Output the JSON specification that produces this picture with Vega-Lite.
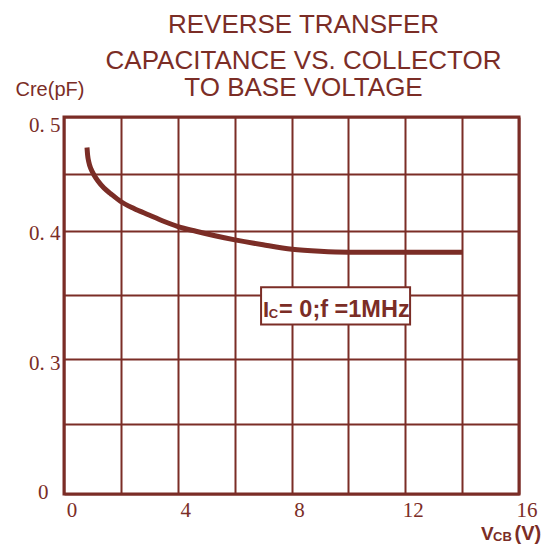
{
  "$schema": "https://vega.github.io/schema/vega-lite/v6.json",
  "width": 455,
  "height": 377,
  "autosize": {"type": "none"},
  "padding": {"left": 64, "top": 117, "right": 31, "bottom": 51},
  "background": "white",
  "config": {
    "view": {"stroke": "#7b2d26", "strokeWidth": 3},
    "axis": {"gridColor": "#7b2d26", "gridWidth": 2, "gridOpacity": 1, "domain": false, "ticks": false, "labelColor": "#7b2d26", "labelOverlap": false, "labelFlush": false, "labelBound": false}
  },
  "title": {
    "text": "REVERSE TRANSFER",
    "subtitle": ["CAPACITANCE VS. COLLECTOR", "TO BASE VOLTAGE"],
    "font": "Liberation Sans",
    "fontSize": 26,
    "fontWeight": "normal",
    "color": "#7b2d26",
    "subtitleFont": "Liberation Sans",
    "subtitleFontSize": 26,
    "subtitleFontWeight": "normal",
    "subtitleColor": "#7b2d26",
    "subtitleLineHeight": 27,
    "subtitlePadding": 10,
    "anchor": "middle",
    "frame": "group",
    "dx": 12,
    "offset": -22
  },
  "datasets": {
    "curve": [
      {"v": 0.809, "c": 0.4732},
      {"v": 0.83, "c": 0.4667},
      {"v": 0.872, "c": 0.4605},
      {"v": 0.949, "c": 0.4544},
      {"v": 1.055, "c": 0.4491},
      {"v": 1.195, "c": 0.4439},
      {"v": 1.406, "c": 0.4377},
      {"v": 1.653, "c": 0.4325},
      {"v": 1.994, "c": 0.4259},
      {"v": 2.46, "c": 0.4197},
      {"v": 2.99, "c": 0.4140},
      {"v": 3.48, "c": 0.4088},
      {"v": 4.01, "c": 0.4039},
      {"v": 4.64, "c": 0.3998},
      {"v": 5.31, "c": 0.3963},
      {"v": 6.01, "c": 0.3931},
      {"v": 7.0, "c": 0.3892},
      {"v": 8.02, "c": 0.3857},
      {"v": 9.0, "c": 0.3841},
      {"v": 9.99, "c": 0.3834},
      {"v": 14.0, "c": 0.3834}
    ],
    "note": [{"x1": 6.93, "x2": 12.17, "y1": 0.327, "y2": 0.356}],
    "anchor": [{"x": 16, "y": 0}]
  },
  "layer": [
    {
      "data": {"name": "curve"},
      "mark": {"type": "line", "color": "#7b2d26", "strokeWidth": 5, "interpolate": "monotone", "strokeCap": "butt"},
      "encoding": {
        "x": {
          "field": "v", "type": "quantitative",
          "scale": {"domain": [0, 16], "nice": false, "zero": false},
          "axis": {
            "values": [0, 2, 4, 6, 8, 10, 12, 14, 16],
            "labelExpr": "datum.value % 4 == 0 ? datum.label : ''",
            "labelFont": "Liberation Serif",
            "labelFontSize": 21,
            "labelOffset": 7.5,
            "labelPadding": 5,
            "title": null
          }
        },
        "y": {
          "field": "c", "type": "quantitative",
          "scale": {"domain": [0, 0.3, 0.4, 0.5], "range": [377, 242, 114, 0], "nice": false, "zero": false},
          "axis": {
            "values": [0, 0.155, 0.3, 0.35, 0.4, 0.45, 0.5],
            "labelExpr": "datum.value == 0.5 ? '0. 5' : datum.value == 0.4 ? '0. 4' : datum.value == 0.3 ? '0. 3' : datum.value == 0 ? '0' : ''",
            "labelFont": "Liberation Serif",
            "labelFontSize": 21,
            "labelPadding": {"condition": {"test": "datum.value == 0", "value": 16}, "value": 4},
            "labelBaseline": "middle",
            "labelOffset": {"condition": [{"test": "datum.value == 0.5", "value": 8}, {"test": "datum.value == 0", "value": -2}, {"test": "datum.value == 0.3", "value": 4}], "value": 2},
            "title": "Cre(pF)",
            "titleAngle": 0,
            "titleX": -49,
            "titleY": -22,
            "titleAlign": "left",
            "titleBaseline": "alphabetic",
            "titleFont": "Liberation Sans",
            "titleFontSize": 20,
            "titleFontWeight": "normal",
            "titleColor": "#7b2d26"
          }
        }
      }
    },
    {
      "data": {"name": "note"},
      "mark": {"type": "rect", "fill": "white", "stroke": "#7b2d26", "strokeWidth": 2},
      "encoding": {
        "x": {"field": "x1", "type": "quantitative"},
        "x2": {"field": "x2"},
        "y": {"field": "y1", "type": "quantitative"},
        "y2": {"field": "y2"}
      }
    },
    {
      "data": {"name": "note"},
      "mark": {"type": "text", "text": "I", "align": "left", "baseline": "alphabetic", "dx": 2, "dy": -7.7, "font": "Liberation Sans", "fontSize": 22, "fontWeight": "bold", "color": "#7b2d26"},
      "encoding": {"x": {"field": "x1", "type": "quantitative"}, "y": {"field": "y1", "type": "quantitative"}}
    },
    {
      "data": {"name": "note"},
      "mark": {"type": "text", "text": "C", "align": "left", "baseline": "alphabetic", "dx": 7.8, "dy": -6, "font": "Liberation Sans", "fontSize": 13, "fontWeight": "bold", "color": "#7b2d26"},
      "encoding": {"x": {"field": "x1", "type": "quantitative"}, "y": {"field": "y1", "type": "quantitative"}}
    },
    {
      "data": {"name": "note"},
      "mark": {"type": "text", "text": "= 0;f =1MHz", "align": "left", "baseline": "alphabetic", "dx": 18, "dy": -7.7, "font": "Liberation Sans", "fontSize": 23.5, "fontWeight": "bold", "color": "#7b2d26"},
      "encoding": {"x": {"field": "x1", "type": "quantitative"}, "y": {"field": "y1", "type": "quantitative"}}
    },
    {
      "data": {"name": "anchor"},
      "mark": {"type": "text", "text": "V", "align": "left", "baseline": "alphabetic", "dx": -38, "dy": 46, "font": "Liberation Sans", "fontSize": 19, "fontWeight": "bold", "color": "#7b2d26"},
      "encoding": {"x": {"field": "x", "type": "quantitative"}, "y": {"field": "y", "type": "quantitative"}}
    },
    {
      "data": {"name": "anchor"},
      "mark": {"type": "text", "text": "CB", "align": "left", "baseline": "alphabetic", "dx": -26, "dy": 47, "font": "Liberation Sans", "fontSize": 13, "fontWeight": "bold", "color": "#7b2d26"},
      "encoding": {"x": {"field": "x", "type": "quantitative"}, "y": {"field": "y", "type": "quantitative"}}
    },
    {
      "data": {"name": "anchor"},
      "mark": {"type": "text", "text": "(V)", "align": "left", "baseline": "alphabetic", "dx": -4.5, "dy": 46, "font": "Liberation Sans", "fontSize": 20, "fontWeight": "bold", "color": "#7b2d26"},
      "encoding": {"x": {"field": "x", "type": "quantitative"}, "y": {"field": "y", "type": "quantitative"}}
    }
  ]
}
